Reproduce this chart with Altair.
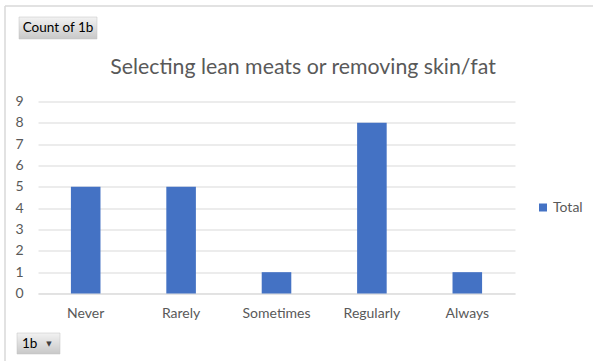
import altair as alt
import pandas as pd

categories = ["Never", "Rarely", "Sometimes", "Regularly", "Always"]
counts = [5, 5, 1, 8, 1]
series_name = "Total"
title_text = "Selecting lean meats or removing skin/fat"
y_ticks = list(range(0, 10))

df = pd.DataFrame({"cat": categories, "count": counts, "series": [series_name] * len(categories)})

FONT = "Lato"
GRAY = "#595959"
W, H = 477, 192
L, T = 38, 101.5

bars = alt.Chart(df).mark_bar(color="#4472C4").encode(
    x=alt.X("cat:N", sort=categories,
            scale=alt.Scale(paddingInner=0.69, paddingOuter=0.345),
            axis=alt.Axis(title=None, labelAngle=0, labelFont=FONT, labelFontSize=14,
                          labelColor=GRAY, ticks=False, domain=True, domainColor="#d9d9d9",
                          labelPadding=12.5)),
    y=alt.Y("count:Q", scale=alt.Scale(domain=[0, 9], nice=False),
            axis=alt.Axis(title=None, values=y_ticks, labelFont=FONT, labelFontSize=14,
                          labelColor=GRAY, ticks=False, domain=False, gridColor="#d9d9d9",
                          labelPadding=15)),
    color=alt.Color("series:N", scale=alt.Scale(range=["#4472C4"]),
                    legend=alt.Legend(title=None, orient="none", legendX=498, legendY=99,
                                      symbolType="square", symbolSize=64, symbolStrokeWidth=0,
                                      labelFont=FONT, labelFontSize=14, labelColor=GRAY,
                                      labelOffset=3)),
)

grad = alt.LinearGradient(gradient="linear", x1=0, y1=0, x2=0, y2=1,
                          stops=[alt.GradientStop(color="#f2f2f2", offset=0),
                                 alt.GradientStop(color="#c8c8c8", offset=1)])

btn1 = alt.Chart().mark_rect(fill=grad, stroke="#c0c0c0", strokeWidth=0.5).encode(
    x=alt.value(19 - L), x2=alt.value(97 - L), y=alt.value(17 - T), y2=alt.value(39 - T))
btn1_text = alt.Chart().mark_text(text="Count of 1b", font=FONT, fontSize=13.5, color="#000000",
                                  align="center", baseline="middle").encode(
    x=alt.value(58 - L), y=alt.value(28 - T))
btn2 = alt.Chart().mark_rect(fill=grad, stroke="#c0c0c0", strokeWidth=0.5).encode(
    x=alt.value(17 - L), x2=alt.value(60 - L), y=alt.value(333 - T), y2=alt.value(354 - T))
btn2_text = alt.Chart().mark_text(text="1b", font=FONT, fontSize=13.5, color="#000000",
                                  align="left", baseline="middle").encode(
    x=alt.value(22 - L), y=alt.value(344 - T))
btn2_arrow = alt.Chart().mark_text(text="▼", font="DejaVu Sans", fontSize=7, color="#404040",
                                   align="center", baseline="middle").encode(
    x=alt.value(49 - L), y=alt.value(344 - T))
title = alt.Chart().mark_text(text=title_text, font=FONT, fontSize=21.3, color=GRAY,
                              align="center", baseline="middle").encode(
    x=alt.value(303 - L), y=alt.value(68 - T))
border_top = alt.Chart().mark_rule(color="#d9d9d9", strokeWidth=1.5).encode(
    x=alt.value(5 - L), x2=alt.value(593 - L), y=alt.value(6 - T))
border_left = alt.Chart().mark_rule(color="#d9d9d9", strokeWidth=1.5).encode(
    x=alt.value(5 - L), y=alt.value(6 - T), y2=alt.value(361 - T))

chart = alt.layer(bars, border_top, border_left, title, btn1, btn1_text, btn2, btn2_text,
                  btn2_arrow).properties(
    width=W, height=H,
    autosize=alt.AutoSizeParams(type="none"),
    padding={"left": L, "top": T, "right": 593 - L - W, "bottom": 361 - T - H},
    background="white",
).configure_view(stroke=None)

chart.save("out.html", embed_options={"renderer": "svg", "actions": False})
